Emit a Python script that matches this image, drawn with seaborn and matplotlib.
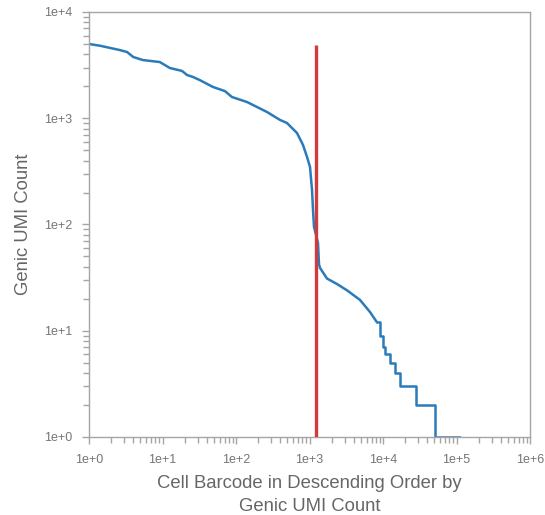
import numpy as np
import pandas as pd
import seaborn as sb
import matplotlib
matplotlib.use("Agg")
import matplotlib.pyplot as plt
from matplotlib.ticker import LogLocator, FuncFormatter, NullFormatter

# barcode rank curve, smooth part
curve_rank = [1, 1.4, 2.6, 3.3, 4.0, 5.4, 9.2, 12.6, 18.4, 21.5, 26, 32, 48.6, 70.8, 88,
              141, 264, 398, 494, 676, 816, 925, 1016, 1082, 1116, 1151, 1225, 1305,
              1347, 1390, 1730, 2370, 3240, 4860, 6650, 8280]
curve_count = [5000, 4820, 4390, 4200, 3770, 3530, 3380, 2970, 2790, 2555, 2445, 2290, 1970,
               1800, 1585, 1422, 1145, 963, 902, 726, 560, 432, 348, 211, 137, 95, 80, 67,
               42, 39, 31, 27.5, 24, 19.5, 15, 12]

# stepped tail (low count barcodes)
tail_rank = [8280, 9100, 10000, 10640, 12450, 14560, 17000, 28000, 51000, 112000]
tail_count = [12, 9, 7, 6, 5, 4, 3, 2, 1, 1]

cutoff_rank = 1225
cutoff_top = 4900

curve = pd.DataFrame({"rank": curve_rank, "count": curve_count})
tail = pd.DataFrame({"rank": tail_rank, "count": tail_count})

sb.set_style("ticks")
plt.rcParams["font.family"] = ["Liberation Sans", "DejaVu Sans"]

fig = plt.figure(figsize=(5.45, 5.15), dpi=100)
ax = fig.add_axes([0.1633, 0.1515, 0.8092, 0.8252])

blue = "#2b7bba"
sb.lineplot(x="rank", y="count", data=curve, ax=ax, color=blue, lw=1.8,
            estimator=None, sort=False)
sb.lineplot(x="rank", y="count", data=tail, ax=ax, color=blue, lw=1.8,
            estimator=None, sort=False, drawstyle="steps-post")
ax.vlines(cutoff_rank, 1, cutoff_top, color="#d23b3b", lw=2.4, zorder=5)

ax.set_xscale("log")
ax.set_yscale("log")
ax.set_xlim(1, 1e6)
ax.set_ylim(1, 1e4)

fmt = FuncFormatter(lambda v, p: "1e+%d" % int(round(np.log10(v))))
for axis in (ax.xaxis, ax.yaxis):
    axis.set_major_locator(LogLocator(base=10, numticks=10))
    axis.set_minor_locator(LogLocator(base=10, subs=np.arange(2, 10), numticks=10))
    axis.set_major_formatter(fmt)
    axis.set_minor_formatter(NullFormatter())

grey = "#a5a5a5"
for s in ax.spines.values():
    s.set_color(grey)
    s.set_linewidth(1.0)
ax.tick_params(which="major", length=5, width=1, color=grey, labelcolor="#757575",
               labelsize=9, pad=7)
ax.tick_params(which="minor", length=4, width=1, color=grey)

ax.set_xlabel("Cell Barcode in Descending Order by\nGenic UMI Count", fontsize=13.3,
              color="#666666", labelpad=7, linespacing=1.45)
ax.set_ylabel("Genic UMI Count", fontsize=13.3, color="#666666", labelpad=9)

fig.savefig("out.png", dpi=100)
